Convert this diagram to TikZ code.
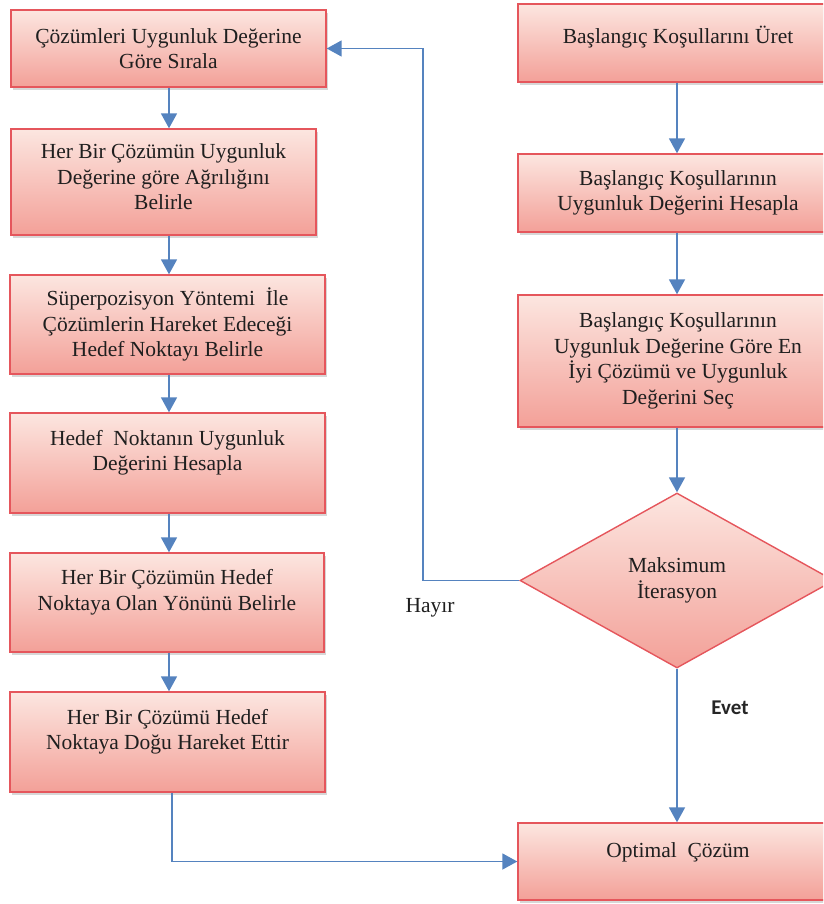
\documentclass[tikz,border=0pt]{standalone}
\usepackage{fontspec}
\setmainfont{Liberation Serif}
\newfontfamily\boxserif{Liberation Serif}
\newfontfamily\labelsans{Carlito}
\usetikzlibrary{shapes.geometric,arrows.meta,shadows}

\definecolor{boxtop}{HTML}{FCE6E0}
\definecolor{boxbot}{HTML}{F3A098}
\definecolor{boxedge}{HTML}{E5565C}
\definecolor{flow}{HTML}{5583BF}

\tikzset{
  boxfont/.style={font=\boxserif\fontsize{21.5}{25.5}\selectfont, text=black!88},
  stepbox/.style={draw=boxedge, line width=1.4pt, top color=boxtop, bottom color=boxbot,
    align=center, inner sep=0pt, boxfont,
    drop shadow={shadow xshift=1.5pt, shadow yshift=-3pt, fill=black!45, opacity=.35}},
  decision/.style={diamond, draw=boxedge, line width=1.4pt, top color=boxtop, bottom color=boxbot,
    align=center, inner sep=0pt, aspect=1.79, minimum width=314pt, minimum height=175pt, boxfont},
  flowarrow/.style={draw=flow, line width=1.8pt, -{Triangle[length=15pt,width=16pt]}},
}

\begin{document}
\begin{tikzpicture}[x=1pt,y=-1pt]
\useasboundingbox (0,0) rectangle (823,904);
\clip (0,0) rectangle (823,904);

% column guides for the vertical connectors
\coordinate (colL) at (169,0);
\coordinate (colR) at (677,0);
\coordinate (loop) at (423,580);
\coordinate (dropL) at (172,861.5);

% left column
\node[stepbox, minimum width=315pt, minimum height=77pt] (b1) at (168.5,48.5)
  {Çözümleri Uygunluk Değerine\\Göre Sırala};
\node[stepbox, minimum width=305pt, minimum height=106pt, text depth=10pt] (b2) at (163.5,182)
  {Her Bir Çözümün Uygunluk\\Değerine göre Ağrılığını\\Belirle};
\node[stepbox, minimum width=315pt, minimum height=99pt] (b3) at (167.5,324.5)
  {Süperpozisyon Yöntemi~ İle\\Çözümlerin Hareket Edeceği\\Hedef Noktayı Belirle};
\node[stepbox, minimum width=315pt, minimum height=100pt, text depth=25pt] (b4) at (167.5,463)
  {Hedef~ Noktanın Uygunluk\\Değerini Hesapla};
\node[stepbox, minimum width=314pt, minimum height=99pt, text depth=25pt] (b5) at (167,602.5)
  {Her Bir Çözümün Hedef\\Noktaya Olan Yönünü Belirle};
\node[stepbox, minimum width=315pt, minimum height=100pt, text depth=25pt] (b6) at (167.5,742)
  {Her Bir Çözümü Hedef\\Noktaya Doğu Hareket Ettir};

% right column
\node[stepbox, minimum width=320pt, minimum height=78pt, text depth=17pt] (r1) at (678,43)
  {Başlangıç Koşullarını Üret};
\node[stepbox, minimum width=320pt, minimum height=78pt] (r2) at (678,193)
  {Başlangıç Koşullarının\\Uygunluk Değerini Hesapla};
\node[stepbox, minimum width=320pt, minimum height=132pt] (r3) at (678,361)
  {Başlangıç Koşullarının\\Uygunluk Değerine Göre En\\İyi Çözümü ve Uygunluk\\Değerini Seç};
\node[decision] (dec) at (677,580.5) {Maksimum\\İterasyon};
\node[stepbox, minimum width=320pt, minimum height=77pt, text depth=23pt] (opt) at (678,861.5)
  {Optimal~ Çözüm};

% branch labels
\node[boxfont, inner sep=0pt] (no) at (430,608) {Hayır};
\node[font=\labelsans\bfseries\fontsize{21}{25}\selectfont, text=black!85, inner sep=0pt] (yes) at (730,708) {Evet};

% left column connectors
\draw[flowarrow] (b1.south -| colL) -- (b2.north -| colL);
\draw[flowarrow] (b2.south -| colL) -- (b3.north -| colL);
\draw[flowarrow] (b3.south -| colL) -- (b4.north -| colL);
\draw[flowarrow] (b4.south -| colL) -- (b5.north -| colL);
\draw[flowarrow] (b5.south -| colL) -- (b6.north -| colL);
\draw[flowarrow] (b6.south -| dropL) -- (dropL) -- (opt.west);

% right column connectors
\draw[flowarrow] (r1.south -| colR) -- (r2.north -| colR);
\draw[flowarrow] (r2.south -| colR) -- (r3.north -| colR);
\draw[flowarrow] (r3.south -| colR) -- (dec.north);
\draw[flowarrow] (dec.south) -- (opt.north -| dec.south);

% loop back when the iteration limit is not reached
\draw[flowarrow] (dec.west) -- (dec.west -| loop) -- (b1.east -| loop) -- (b1.east);
\end{tikzpicture}
\end{document}
